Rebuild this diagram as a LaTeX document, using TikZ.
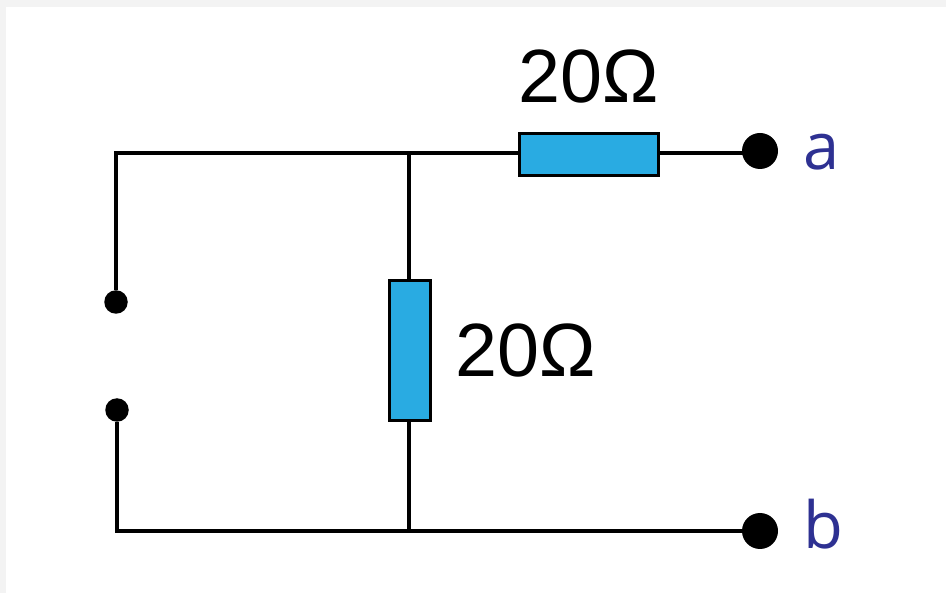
\documentclass[tikz,border=0pt]{standalone}
\usepackage{fontspec}
\setmainfont{Liberation Sans}
\newfontfamily\termfont{Open Sans}
\usetikzlibrary{calc,
positioning}
\definecolor{resblue}{HTML}{29ABE2}
\definecolor{termblue}{HTML}{2E3192}
\definecolor{pagegray}{HTML}{F3F3F3}

\begin{document}
\begin{tikzpicture} [x=1pt,
    y=-1pt,
    line width = 3.3pt,
    res node/.style={rectangle, fill = resblue, draw, line width = 3pt,
        inner sep = 0pt},
    value node/.style={inner sep = 0pt, font=\fontsize{75.5}{80}\selectfont},
    term node/.style={circle, fill = black, inner sep = 0pt, outer sep = 0pt,
        minimum size = 36pt},
    open node/.style={circle, fill = black, inner sep = 0pt, outer sep = 0pt,
        minimum size = 23.5pt},
    term label/.style={inner sep = 0pt, text = termblue,
        font=\termfont\fontsize{65}{80}\selectfont}
  ]

  \fill [pagegray] (0, 0) rectangle (946, 593);
  \fill [white] (6, 7) rectangle (946, 593);
  \useasboundingbox (0, 0) rectangle (946, 593);

  \node [res node,
    minimum width = 139pt,
    minimum height = 41.5pt
  ] (rtop) at (588.5, 154.5) {};

  \node [res node,
    minimum width = 41pt,
    minimum height = 140pt
  ] (rmid) at (410, 350.5) {};

  \node [term node] (terma) at (760, 151) {};
  \node [term node] (termb) at (760, 531) {};
  \node [open node] (openu) at (116, 302) {};
  \node [open node] (openl) at (117, 410) {};

  \node [value node, above = 27pt of rtop] (vtop) {20Ω};
  \node [value node, right = 22pt of rmid] (vmid) {20Ω};
  \node [term label, anchor = base west] (la) at (802, 170) {a};
  \node [term label, anchor = base west] (lb) at (802, 549) {b};

  \coordinate (ctl) at (116, 153);
  \coordinate (cbl) at (117, 531);
  \coordinate (jtop) at (409, 153);
  \coordinate (jbot) at (409, 531);

  %%%%%%%%%%%%%%%%%%%%%%%%%%%%%%

  \draw (openu) -- (ctl) -- (rtop.west |- ctl);
  \draw (rtop.east |- ctl) -- (terma |- ctl);
  \draw (jtop) -- (rmid.north -| jtop);
  \draw (rmid.south -| jbot) -- (jbot);
  \draw (openl) -- (cbl) -- (termb);

\end{tikzpicture}
\end{document}
